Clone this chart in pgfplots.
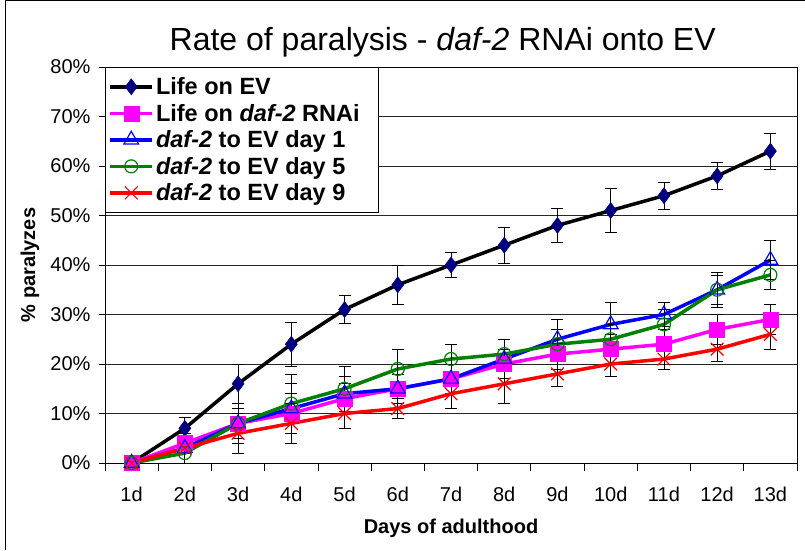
\documentclass[border=0pt]{standalone}
\usepackage{fontspec}
\setmainfont{Liberation Sans}
\usepackage{pgfplots}
\usepackage{pgfplotstable}
\pgfplotsset{compat=1.18}
\definecolor{navy}{RGB}{0,0,128}
\definecolor{xlgreen}{RGB}{0,128,0}
\definecolor{xlmagenta}{RGB}{255,0,255}
\definecolor{xlblue}{RGB}{0,0,255}
\definecolor{xlred}{RGB}{255,0,0}
\pgfplotstableread{
x y e
1 0 0
2 7 2.2
3 16 4
4 24 4.5
5 31 2.8
6 36 4
7 40 2.6
8 44 3.6
9 48 3.5
10 51 4.4
11 54 2.7
12 58 2.7
13 63 3.6
}\lifeEV
\pgfplotstableread{
x y e
1 0 0
2 4 2
3 8 4
4 10 4
5 13 3
6 15 3
7 17 3
8 20 3
9 22 3
10 23 3
11 24 3
12 27 3
13 29 3
}\lifeDaf
\pgfplotstableread{
x y e
1 0 0
2 3 3
3 8 4
4 11 5
5 14 3.5
6 15 3
7 17 3
8 21 4
9 25 4
10 28 4.5
11 30 2.5
12 35 3
13 41 4
}\dayOne
\pgfplotstableread{
x y e
1 0 0
2 2 2
3 8 3
4 12 6
5 15 4.5
6 19 4
7 21 3
8 22 3
9 24 3
10 25 3
11 28 3
12 35 3.5
13 38 3
}\dayFive
\pgfplotstableread{
x y e
1 0 0
2 3 3
3 6 4
4 8 4
5 10 3
6 11 2
7 14 3
8 16 4
9 18 2.5
10 20 2.5
11 21 2
12 23 2.5
13 26 3
}\dayNine
\begin{document}
\begin{tikzpicture}
\path[use as bounding box] (0,0) rectangle (805pt,550pt);
\draw[black, line width=1pt] (5pt,0pt) -- (5pt,549.5pt) -- (805pt,549.5pt);
\begin{axis}[
  at={(105pt,87pt)}, anchor=south west,
  width=692pt, height=396pt, scale only axis,
  xmin=0.5, xmax=13.5, ymin=0, ymax=80,
  xtick={1,...,13},
  xticklabels={1d,2d,3d,4d,5d,6d,7d,8d,9d,10d,11d,12d,13d},
  minor xtick={0.5,1.5,...,13.5},
  ytick={0,10,...,80},
  yticklabel={\pgfmathprintnumber{\tick}\%},
  /pgf/number format/assume math mode=true,
  tick pos=left, tick align=outside,
  major tick length=6pt, minor tick length=8pt,
  major x tick style={draw=none},
  every tick/.style={black, line width=0.8pt},
  ymajorgrids, grid style={black!85, line width=0.8pt},
  axis line style={black, line width=1pt},
  ticklabel style={font=\fontsize{20}{24}\selectfont},
  xticklabel style={yshift=-14pt},
  yticklabel style={xshift=-5pt},
  title={\fontsize{32}{38}\selectfont Rate of paralysis - \textit{daf-2} RNAi onto EV},
  title style={at={(axis description cs:0.488,1.048)}, anchor=center},
  xlabel={\fontsize{20}{24}\selectfont\bfseries Days of adulthood},
  xlabel style={at={(axis description cs:0.5,-0.165)}, anchor=center},
  ylabel={\fontsize{20}{24}\selectfont\bfseries \% paralyzes},
  ylabel style={at={(axis description cs:-0.1084,0.5)}, anchor=center, rotate=0},
  legend style={at={(0,1)}, anchor=north west, draw=black, line width=1pt, fill=white,
    font=\fontsize{23.5}{28}\selectfont\bfseries, inner xsep=3pt, inner ysep=8pt,
    row sep=4pt},
  legend cell align=left,
  legend image code/.code={\draw[mark repeat=2,mark phase=2,#1] plot coordinates {(0pt,0pt) (21pt,0pt) (42pt,0pt)};},
  error bars/y dir=both, error bars/y explicit,
  error bars/error bar style={black, line width=0.8pt},
  error bars/error mark options={rotate=90, mark size=6pt, black, line width=0.8pt},
]
\addplot[black, line width=3.5pt, mark=diamond*, mark size=8pt,
  mark options={solid, fill=navy, draw=navy, line width=0.5pt}]
  table[x=x, y=y, y error=e] {\lifeEV};
\addlegendentry{Life on EV}
\addplot[xlmagenta, line width=3.5pt, mark=square*, mark size=7.5pt,
  mark options={solid, fill=xlmagenta, draw=xlmagenta, line width=0.5pt}]
  table[x=x, y=y, y error=e] {\lifeDaf};
\addlegendentry{Life on \textit{daf-2} RNAi\hspace*{14pt}}
\addplot[xlblue, line width=3.5pt, mark=triangle, mark size=8.5pt,
  mark options={solid, draw=xlblue, line width=1.2pt}]
  table[x=x, y=y, y error=e] {\dayOne};
\addlegendentry{\textit{daf-2} to EV day 1}
\addplot[xlgreen, line width=3.5pt, mark=o, mark size=6.5pt,
  mark options={solid, draw=xlgreen, line width=1.2pt}]
  table[x=x, y=y, y error=e] {\dayFive};
\addlegendentry{\textit{daf-2} to EV day 5}
\addplot[xlred, line width=3.5pt, mark=x, mark size=9pt,
  mark options={solid, draw=xlred, line width=1.2pt}]
  table[x=x, y=y, y error=e] {\dayNine};
\addlegendentry{\textit{daf-2} to EV day 9}
\end{axis}
\end{tikzpicture}
\end{document}
